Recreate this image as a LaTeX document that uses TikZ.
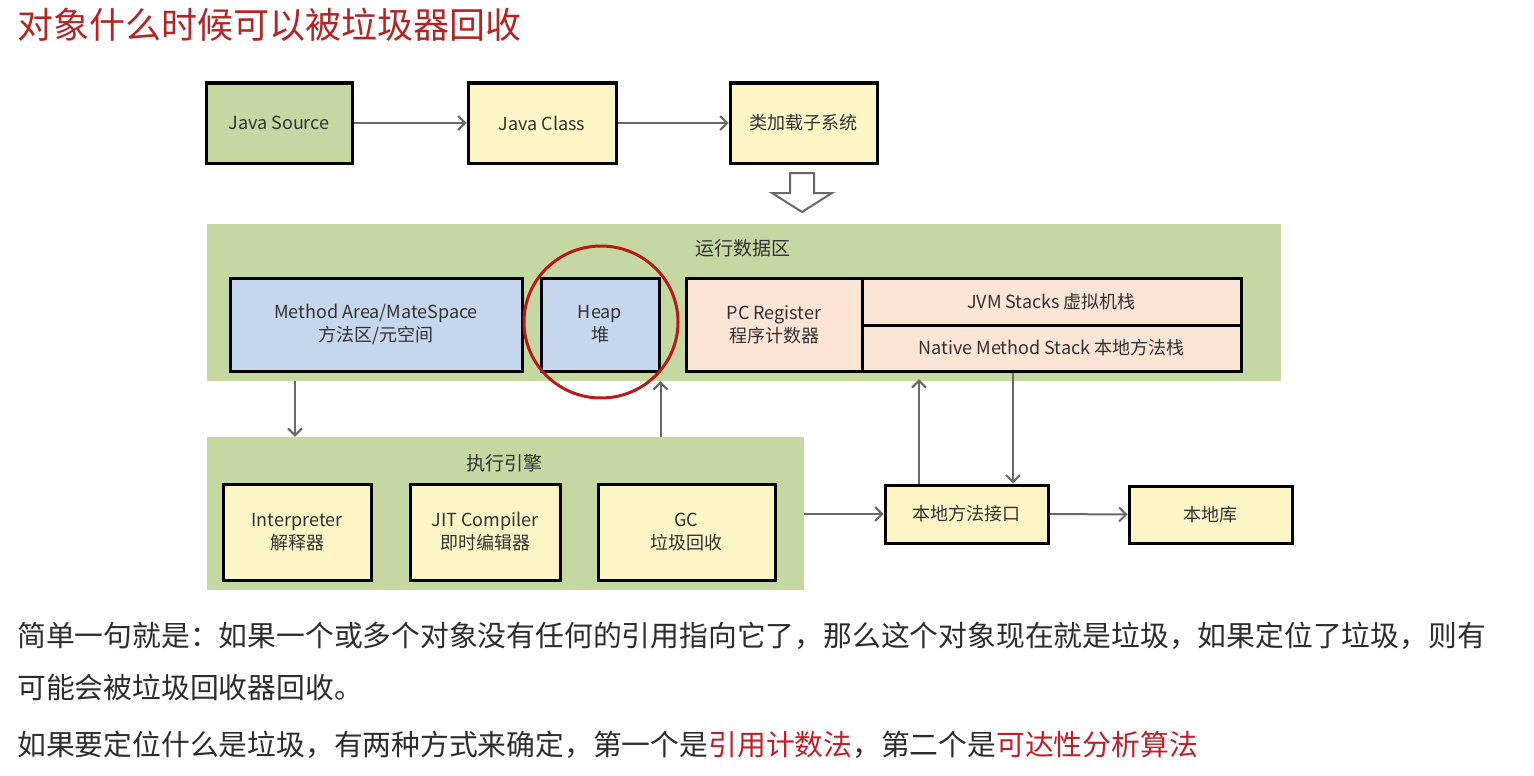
\documentclass[tikz,border=0pt]{standalone}
\usepackage{fontspec}
\setmainfont{Noto Sans CJK SC}
\usetikzlibrary{arrows.meta}
\definecolor{gbg}{RGB}{198,216,162}
\definecolor{ybox}{RGB}{252,246,199}
\definecolor{bbox}{RGB}{198,214,236}
\definecolor{pbox}{RGB}{252,228,214}
\definecolor{ttl}{RGB}{180,36,36}
\definecolor{hl}{RGB}{192,30,40}
\definecolor{txt}{RGB}{45,45,45}
\definecolor{btxt}{RGB}{50,50,50}
\definecolor{arrc}{RGB}{105,105,105}
\definecolor{circ}{RGB}{185,25,25}
\tikzset{
  box/.style={draw=black, line width=3pt, inner sep=0pt, text=btxt, align=center,
    font=\fontsize{18}{23}\selectfont},
  area/.style={inner sep=0pt, fill=gbg},
  areatitle/.style={inner sep=0pt, text=btxt, font=\fontsize{19}{23}\selectfont},
  arr/.style={draw=arrc, line width=2pt, -{Straight Barb[length=7pt,width=14pt]}},
  bodytext/.style={anchor=west, inner sep=0pt, text=txt, font=\fontsize{28.8}{34}\selectfont},
}
\begin{document}
\begin{tikzpicture}[x=1pt,y=-1pt]
\useasboundingbox[fill=white] (0,0) rectangle (1534,776);

% title
\node[anchor=west, inner sep=0pt, text=ttl, font=\fontsize{36}{40}\selectfont] (title) at (17,25) {对象什么时候可以被垃圾器回收};

% top row
\node[box, fill=gbg, minimum width=146pt, minimum height=80pt] (src) at (279,123) {Java Source};
\node[box, fill=ybox, minimum width=148pt, minimum height=80pt] (cls) at (542,123) {Java Class};
\node[box, fill=ybox, minimum width=147pt, minimum height=80pt] (cl) at (803.5,123) {类加载子系统};
\draw[arr] (src.east) -- (cls.west);
\draw[arr] (cls.east) -- (cl.west);

% hollow down arrow
\draw[draw=arrc, line width=2pt, fill=white, line join=miter]
  (790,173) -- (814,173) -- (814,193) -- (832,193) -- (802,212) -- (772,193) -- (790,193) -- cycle;

% runtime data area
\node[area, minimum width=1074pt, minimum height=157pt] (rda) at (744,302.5) {};
\node[areatitle] (rdaT) at (743,248) {运行数据区};
\node[box, fill=bbox, minimum width=292pt, minimum height=93pt] (ma) at (376,324.5) {Method Area/MateSpace\\方法区/元空间};
\node[box, fill=bbox, minimum width=118pt, minimum height=93pt] (heap) at (600,324.5) {Heap\\堆};
\node[box, fill=pbox, minimum width=176pt, minimum height=93pt] (pc) at (774,324.5) {PC Register\\程序计数器};
\node[box, fill=pbox, minimum width=379pt, minimum height=47pt] (jvm) at (1051.5,301.5) {JVM Stacks 虚拟机栈};
\node[box, fill=pbox, minimum width=379pt, minimum height=46pt] (nms) at (1051.5,348) {Native Method Stack 本地方法栈};
\draw[draw=circ, line width=3pt] (601,322) ellipse [x radius=77, y radius=76];

% execution engine
\node[area, minimum width=597pt, minimum height=153pt] (ee) at (505.5,513.5) {};
\node[areatitle] (eeT) at (504,463) {执行引擎};
\node[box, fill=ybox, minimum width=148pt, minimum height=96pt] (interp) at (297,532) {Interpreter\\解释器};
\node[box, fill=ybox, minimum width=150pt, minimum height=96pt] (jit) at (485,532) {JIT Compiler\\即时编辑器};
\node[box, fill=ybox, minimum width=177pt, minimum height=96pt] (gc) at (686.5,532) {GC\\垃圾回收};

% native
\node[box, fill=ybox, minimum width=163pt, minimum height=58pt] (jni) at (966.5,514) {本地方法接口};
\node[box, fill=ybox, minimum width=163pt, minimum height=57pt] (lib) at (1210.5,514.5) {本地库};

% connectors
\coordinate (a1) at (295,381);
\draw[arr] (a1) -- (a1 |- ee.north);
\draw[arr] (ee.north -| heap.east) -- (rda.south -| heap.east);
\draw[arr] (ee.east |- jni.west) -- (jni.west);
\draw[arr] (jni.east) -- (lib.west);
\coordinate (a2) at (919,0);
\draw[arr] (jni.north -| a2) -- ([yshift=2pt]rda.south -| a2);
\coordinate (a3) at (1013,0);
\draw[arr] (nms.south -| a3) -- (jni.north -| a3);

% body text
\node[bodytext] (l1) at (17,636) {简单一句就是：如果一个或多个对象没有任何的引用指向它了，那么这个对象现在就是垃圾，如果定位了垃圾，则有};
\node[bodytext] (l2) at (17,687) {可能会被垃圾回收器回收。};
\node[bodytext] (l3) at (17,745) {如果要定位什么是垃圾，有两种方式来确定，第一个是\textcolor{hl}{引用计数法}，第二个是\textcolor{hl}{可达性分析算法}};
\end{tikzpicture}
\end{document}
